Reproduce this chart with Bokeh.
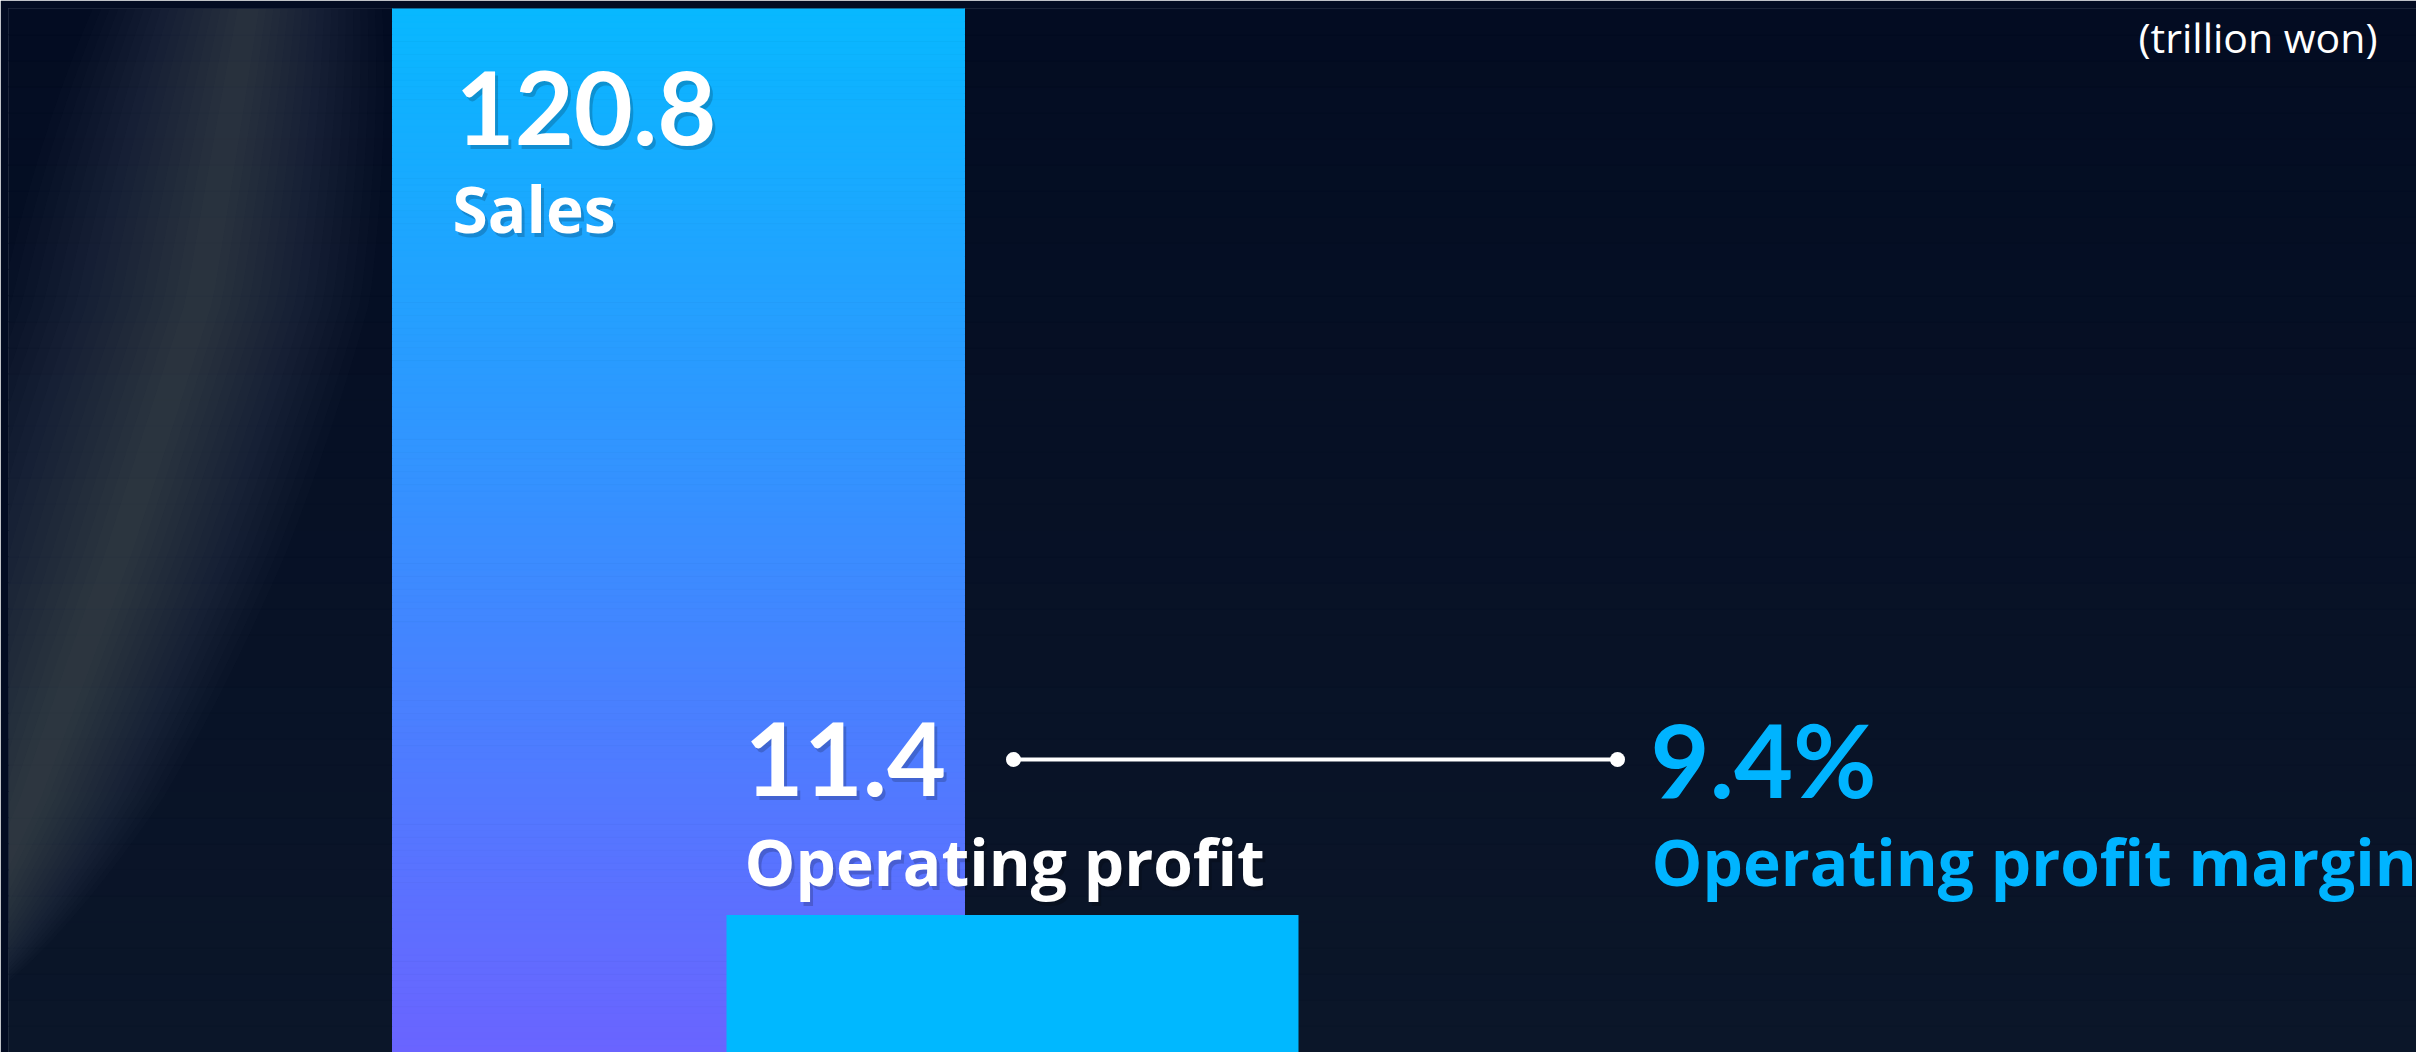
import numpy as np
from bokeh.plotting import figure
from bokeh.models import Range1d, ColumnDataSource
from bokeh.core.properties import value
from bokeh.embed import file_html
from bokeh.resources import INLINE

# ---- data ----
categories = ["Sales", "Operating profit"]
values = [120.8, 11.4]
value_labels = ["120.8", "11.4"]
margin_name = "Operating profit margin"
margin_value = 9.4
unit_label = "(trillion won)"

# ---- layout ----
FIG_W, FIG_H = 2416, 1052
BORDER = 8
W, H = FIG_W - BORDER, FIG_H - BORDER      # frame size
Y_MAX = 86.5          # visible value range (sales bar runs past the top)
BAR_CENTERS = [678, 1012]
BAR_WIDTH = 572
NUM_FONT = "Lato"
LAB_FONT = "Open Sans"
BG = "#050f26"
BASELINE_FIX = 0.38   # text baseline correction, in em


def fx(px):
    return float(px - BORDER)


def fy(py):
    return float((FIG_H - py) / H * Y_MAX)


def mix(a, b, t):
    a = [int(a[i:i + 2], 16) for i in (1, 3, 5)]
    b = [int(b[i:i + 2], 16) for i in (1, 3, 5)]
    c = [int(round(a[j] * (1 - t) + b[j] * t)) for j in range(3)]
    return "#%02x%02x%02x" % tuple(c)


p = figure(width=FIG_W, height=FIG_H, x_range=Range1d(0, W), y_range=Range1d(0, Y_MAX),
           output_backend="svg", toolbar_location=None,
           min_border_left=BORDER, min_border_top=BORDER, min_border_right=0, min_border_bottom=0,
           x_axis_location=None, y_axis_location=None,
           outline_line_color=None, background_fill_color=BG, border_fill_color="#030c22")
p.grid.visible = False

# background: subtle vertical gradient
NB = 40
bedges = [Y_MAX * k / NB for k in range(NB + 1)]
bcols = [mix("#0b1629", "#030c22", (k + 0.5) / NB) for k in range(NB)]
p.quad(left=[0.0] * NB, right=[float(W)] * NB, bottom=bedges[:-1], top=bedges[1:],
       fill_color=bcols, line_color=bcols, line_width=1)

# soft diagonal aurora glow on the left
cy_ctrl = [0, 300, 550, 800, 1000]
cx_ctrl = [250, 200, 120, 30, -60]
ys_dense = np.linspace(0, 1000, 50)
xc_dense = np.interp(ys_dense, cy_ctrl, cx_ctrl)
taper = np.sqrt(np.clip(1 - ((ys_dense - 400) / 620) ** 2, 0.0, 1.0))
for k in range(18):
    hw = (15 + 11 * k) * taper
    left_x = xc_dense - hw
    right_x = xc_dense + 0.85 * hw
    px_poly = np.concatenate([left_x, right_x[::-1]]).tolist()
    py_poly = np.concatenate([ys_dense, ys_dense[::-1]]).tolist()
    p.patch(x=[fx(v) for v in px_poly], y=[fy(v) for v in py_poly],
            fill_color="#8a9896", fill_alpha=0.018, line_color=None)

# Sales bar with vertical gradient
N = 160
top_vis = min(values[0], Y_MAX)
edges = [top_vis * k / N for k in range(N + 1)]
edges[-1] = values[0]
cols = [mix("#6a64ff", "#08b8ff", (k + 0.5) / N) for k in range(N)]
cx0 = fx(BAR_CENTERS[0])
p.quad(left=[cx0 - BAR_WIDTH / 2] * N, right=[cx0 + BAR_WIDTH / 2] * N,
       bottom=edges[:-1], top=edges[1:], fill_color=cols, line_color=cols, line_width=1)

# Operating profit bar
cx1 = fx(BAR_CENTERS[1])
p.quad(left=[cx1 - BAR_WIDTH / 2], right=[cx1 + BAR_WIDTH / 2], bottom=[0.0], top=[values[1]],
       fill_color="#00b8ff", line_color=None)


def add_text(txt, px, py, size, font, color="white", style="bold", align="left", shadow=True):
    y = fy(py - BASELINE_FIX * size)
    fs = "%dpx" % size
    if shadow:
        src = ColumnDataSource(dict(x=[fx(px) + 3], y=[y - 4 / H * Y_MAX], t=[txt]))
        p.text(x="x", y="y", text="t", source=src, text_font=value(font), text_font_size=fs,
               text_font_style=style, text_color="#000000", text_alpha=0.18,
               text_baseline="alphabetic", text_align=align)
    src = ColumnDataSource(dict(x=[fx(px)], y=[y], t=[txt]))
    p.text(x="x", y="y", text="t", source=src, text_font=value(font), text_font_size=fs,
           text_font_style=style, text_color=color, text_baseline="alphabetic",
           text_align=align)


NUM = 102
LAB = 64
add_text(value_labels[0], 455, 146, NUM, NUM_FONT)
add_text(categories[0], 452, 232, LAB, LAB_FONT)
add_text(value_labels[1], 744, 797, NUM, NUM_FONT)
add_text(categories[1], 744, 885, LAB, LAB_FONT)
add_text("%.1f%%" % margin_value, 1650, 797, NUM, NUM_FONT, color="#00b4ff", shadow=False)
add_text(margin_name, 1651, 885, LAB, LAB_FONT, color="#00b4ff", shadow=False)
add_text(unit_label, 2377, 52, 41, LAB_FONT, style="normal", align="right", shadow=False)

# connector line between profit and margin
lx = [fx(1013), fx(1617)]
ly = [fy(759), fy(759)]
p.line(x=lx, y=ly, line_color="white", line_width=4)
p.scatter(x=lx, y=ly, size=15, fill_color="white", line_color=None)

open("out.html", "w").write(file_html(p, INLINE))
